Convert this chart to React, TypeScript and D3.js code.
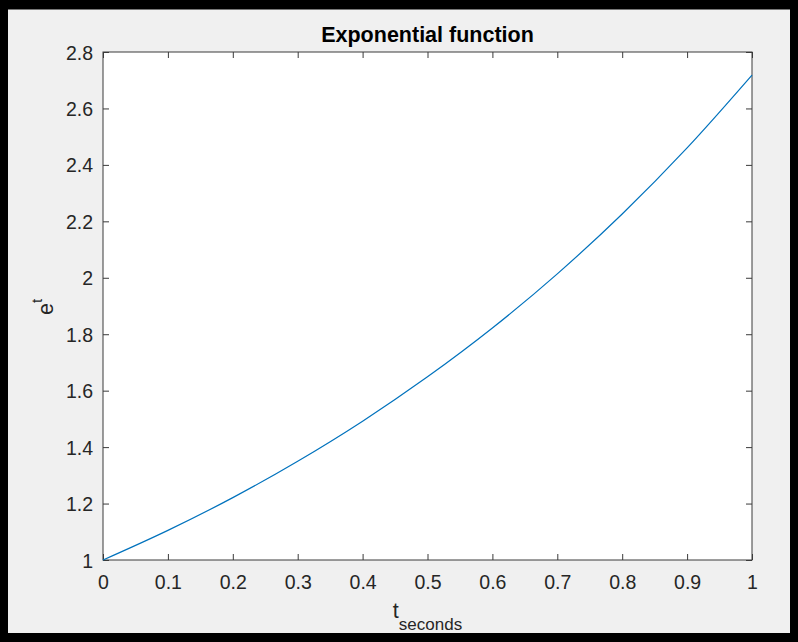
import React, { useEffect, useRef } from 'react';
import * as d3 from 'd3';

// values
const tValues = [0, 0.1, 0.2, 0.3, 0.4, 0.5, 0.6, 0.7, 0.8, 0.9, 1.0];
const expValues = [1.0, 1.105, 1.221, 1.35, 1.492, 1.649, 1.822, 2.014, 2.226, 2.46, 2.718];
const xTicks = [0, 0.1, 0.2, 0.3, 0.4, 0.5, 0.6, 0.7, 0.8, 0.9, 1];
const yTicks = [1, 1.2, 1.4, 1.6, 1.8, 2, 2.2, 2.4, 2.6, 2.8];

const App = () => {
    const svgRef = useRef(null);

    useEffect(() => {
        const width = 798;
        const height = 642;
        const left = 103, right = 752, top = 52, bottom = 560;
        const axisColor = '#3a3a3a';
        const textColor = '#262626';
        const font = 'Liberation Sans, Arial, Helvetica, sans-serif';

        const svg = d3.select(svgRef.current);
        svg.selectAll('*').remove();
        svg.attr('width', width).attr('height', height);

        // frame
        svg.append('rect').attr('x', 0).attr('y', 0).attr('width', width).attr('height', height).attr('fill', '#000');
        svg.append('rect').attr('x', 8).attr('y', 9.5).attr('width', 782).attr('height', 623.5).attr('fill', '#f0f0f0');

        const xScale = d3.scaleLinear().domain([0, 1]).range([left, right]);
        const yScale = d3.scaleLinear().domain([1, 2.8]).range([bottom, top]);

        svg.append('rect')
            .attr('x', left).attr('y', top)
            .attr('width', right - left).attr('height', bottom - top)
            .attr('fill', '#fff');

        const tickLen = 6;
        const tickFmt = d3.format('');

        // bottom + top ticks (inward)
        svg.append('g')
            .attr('transform', `translate(0, ${bottom})`)
            .call(d3.axisBottom(xScale).tickValues(xTicks).tickSize(-tickLen).tickPadding(16).tickFormat(tickFmt))
            .call(g => g.select('.domain').remove())
            .call(g => g.selectAll('line').attr('stroke', axisColor))
            .call(g => g.selectAll('text')
                .attr('fill', textColor)
                .attr('font-family', font)
                .attr('font-size', 19.5)
                .attr('dy', null)
                .attr('y', 29));

        svg.append('g')
            .attr('transform', `translate(0, ${top})`)
            .call(d3.axisTop(xScale).tickValues(xTicks).tickSize(-tickLen).tickFormat(() => ''))
            .call(g => g.select('.domain').remove())
            .call(g => g.selectAll('line').attr('stroke', axisColor));

        // left + right ticks
        svg.append('g')
            .attr('transform', `translate(${left}, 0)`)
            .call(d3.axisLeft(yScale).tickValues(yTicks).tickSize(-tickLen).tickPadding(10).tickFormat(tickFmt))
            .call(g => g.select('.domain').remove())
            .call(g => g.selectAll('line').attr('stroke', axisColor))
            .call(g => g.selectAll('text')
                .attr('fill', textColor)
                .attr('font-family', font)
                .attr('font-size', 19.5)
                .attr('dy', '0.36em'));

        svg.append('g')
            .attr('transform', `translate(${right}, 0)`)
            .call(d3.axisRight(yScale).tickValues(yTicks).tickSize(-tickLen).tickFormat(() => ''))
            .call(g => g.select('.domain').remove())
            .call(g => g.selectAll('line').attr('stroke', axisColor));

        // box
        svg.append('rect')
            .attr('x', left).attr('y', top)
            .attr('width', right - left).attr('height', bottom - top)
            .attr('fill', 'none')
            .attr('stroke', axisColor)
            .attr('stroke-width', 1);

        // curve
        const points = tValues.map((t, i) => [t, expValues[i]]);
        const line = d3.line()
            .x(d => xScale(d[0]))
            .y(d => yScale(d[1]))
            .curve(d3.curveMonotoneX);
        svg.append('path')
            .datum(points)
            .attr('d', line)
            .attr('fill', 'none')
            .attr('stroke', '#0072BD')
            .attr('stroke-width', 1.2);

        // title
        svg.append('text')
            .attr('x', (left + right) / 2)
            .attr('y', 42)
            .attr('text-anchor', 'middle')
            .attr('font-family', font)
            .attr('font-weight', 'bold')
            .attr('font-size', 21.5)
            .attr('fill', '#000')
            .text('Exponential function');

        // x label
        const xl = svg.append('text')
            .attr('x', (left + right) / 2)
            .attr('y', 618)
            .attr('text-anchor', 'middle')
            .attr('font-family', font)
            .attr('fill', textColor);
        xl.append('tspan').attr('font-size', 21.5).text('t');
        xl.append('tspan').attr('font-size', 17).attr('dy', 12).text('seconds');

        // y label
        const yl = svg.append('text')
            .attr('transform', `translate(53, 307) rotate(-90)`)
            .attr('text-anchor', 'middle')
            .attr('font-family', font)
            .attr('fill', textColor);
        yl.append('tspan').attr('font-size', 21.5).text('e');
        yl.append('tspan').attr('font-size', 15).attr('dy', -11).text('t');
    }, []);

    return (
        <div style={{ position: 'absolute', left: 0, top: 0 }}>
            <svg ref={svgRef} style={{ display: 'block' }}></svg>
        </div>
    );
};

export default App;
